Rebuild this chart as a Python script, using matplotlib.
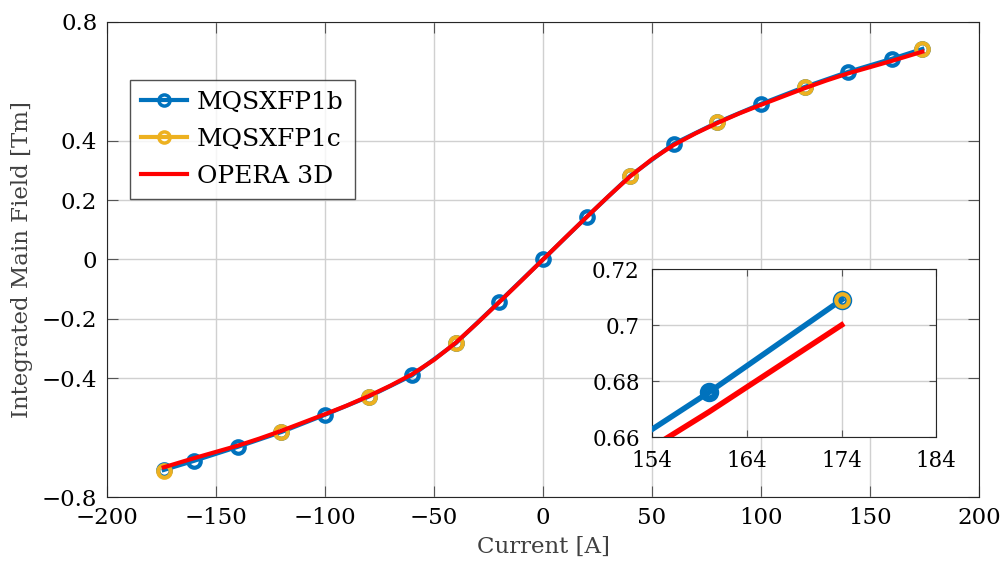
import numpy as np
import matplotlib
matplotlib.use("Agg")
import matplotlib.pyplot as plt

BLUE = "#0072BD"
YELLOW = "#EDB120"
RED = "#FF0000"

# MQSXFP1b measurements
current_b = [-174, -160, -140, -120, -100, -80, -60, -40, -20, 0,
             20, 40, 60, 80, 100, 120, 140, 160, 174]
field_b = [-0.709, -0.678, -0.631, -0.581, -0.523, -0.462, -0.390, -0.282, -0.142, 0.0,
           0.143, 0.282, 0.390, 0.462, 0.524, 0.581, 0.632, 0.676, 0.709]

# MQSXFP1c measurements
current_c = [-174, -120, -80, -40, 40, 80, 120, 174]
field_c = [-0.711, -0.582, -0.462, -0.282, 0.282, 0.462, 0.581, 0.709]

# OPERA 3D simulation
current_op = [-174, -160, -150, -140, -130, -120, -110, -100, -90, -80, -70, -60, -50,
              -40, -30, -20, -10, 0, 10, 20, 30, 40, 50, 60, 70, 80, 90, 100,
              110, 120, 130, 140, 150, 160, 174]
field_op = [-0.700, -0.669, -0.648, -0.627, -0.603, -0.577, -0.549, -0.521, -0.492,
            -0.460, -0.425, -0.386, -0.338, -0.280, -0.213, -0.143, -0.072, 0.0,
            0.072, 0.143, 0.213, 0.280, 0.338, 0.386, 0.425, 0.460, 0.492, 0.521,
            0.549, 0.577, 0.603, 0.627, 0.648, 0.669, 0.700]

plt.rcParams["font.family"] = "DejaVu Serif"

fig = plt.figure(figsize=(10.02, 5.68), dpi=100)
ax = fig.add_axes([0.1068, 0.125, 0.8703, 0.8363])


def draw(a, ms, mew_b, mew_c, lw):
    a.plot(current_b, field_b, color=BLUE, lw=lw, marker="o", ms=ms, mew=mew_b,
           mfc="none", label="MQSXFP1b", zorder=3)
    a.plot(current_c, field_c, color=YELLOW, lw=lw, marker="o", ms=ms, mew=mew_c,
           mfc="none", linestyle="none", label="MQSXFP1c", zorder=4)
    a.plot(current_op, field_op, color=RED, lw=lw, label="OPERA 3D", zorder=5)


draw(ax, 9, 3, 3, 3)
h, l = ax.get_legend_handles_labels()
h[0] = plt.Line2D([], [], color=BLUE, lw=3, marker="o", ms=8, mew=2.5, mfc="none")
h[1] = plt.Line2D([], [], color=YELLOW, lw=3, marker="o", ms=8, mew=2.5, mfc="none")
leg = ax.legend(h, l, loc="upper left", bbox_to_anchor=(0.026, 0.878), fontsize=18,
                frameon=True, fancybox=False, edgecolor="#262626", handlelength=1.85,
                borderpad=0.45, labelspacing=0.55, handletextpad=0.4, borderaxespad=0)
leg.get_frame().set_linewidth(1.0)

ax.set_xlim(-200, 200)
ax.set_ylim(-0.8, 0.8)
ax.set_xticks([-200, -150, -100, -50, 0, 50, 100, 150, 200])
ax.set_yticks([-0.8, -0.4, -0.2, 0, 0.2, 0.4, 0.8])
ax.set_yticklabels(["\u22120.8", "\u22120.4", "\u22120.2", "0", "0.2", "0.4", "0.8"])
ax.set_xticklabels(["\u2212200", "\u2212150", "\u2212100", "\u221250", "0", "50", "100", "150", "200"])
ax.grid(True, color="#d0d0d0", lw=1)
ax.set_axisbelow(True)
ax.tick_params(labelsize=16.5, direction="in", length=8, color="#555555", top=True, right=True, pad=7)
for s in ax.spines.values():
    s.set_color("#262626")
ax.set_xlabel("Current [A]", fontsize=16.5, color="#404040", labelpad=5)
ax.set_ylabel("Integrated Main Field [Tm]", fontsize=16.5, color="#404040", labelpad=6)

# inset zoom
axin = fig.add_axes([0.651, 0.2306, 0.2834, 0.2958])
axin.set_facecolor("white")
draw(axin, 9, 5, 3, 4)
axin.set_xlim(154, 184)
axin.set_ylim(0.66, 0.72)
axin.set_xticks([154, 164, 174, 184])
axin.set_yticks([0.66, 0.68, 0.7, 0.72])
axin.set_yticklabels(["0.66", "0.68", "0.7", "0.72"])
axin.grid(True, color="#d0d0d0", lw=1)
axin.set_axisbelow(True)
axin.tick_params(labelsize=15.5, direction="in", length=5, color="#555555", top=True, right=True, pad=9)
for s in axin.spines.values():
    s.set_color("#262626")

fig.savefig("out.png", dpi=100)
